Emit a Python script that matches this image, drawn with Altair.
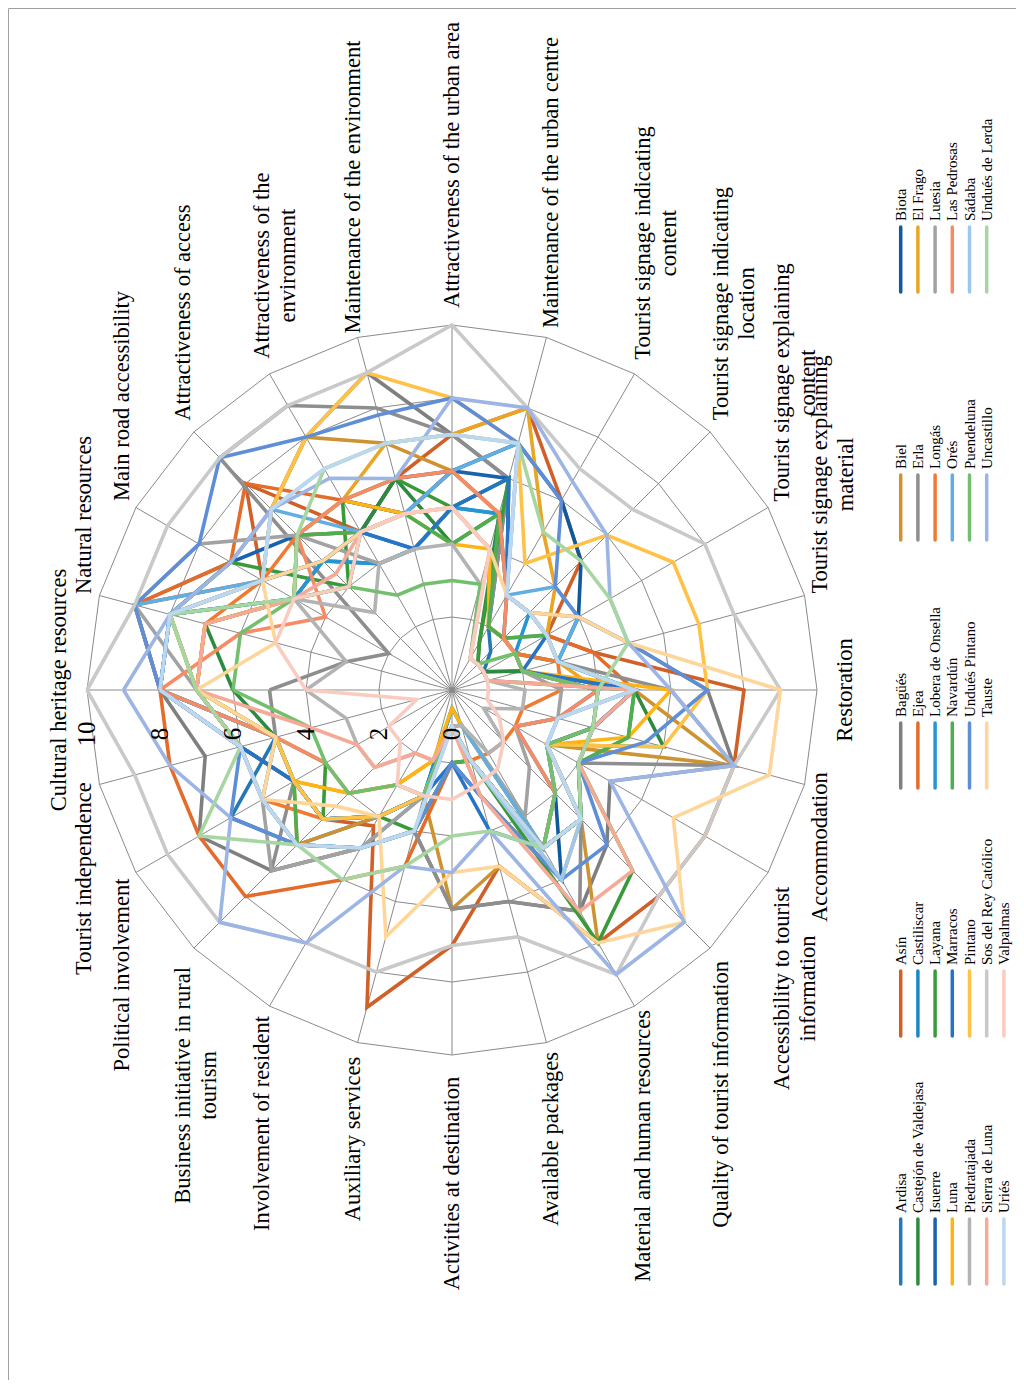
import math
import altair as alt
import pandas as pd

# ---------------- data ----------------
categories = [
    "Cultural heritage resources", "Natural resources", "Main road accessibility",
    "Attractiveness of access", "Attractiveness of the\nenvironment",
    "Maintenance of the environment", "Attractiveness of the urban area",
    "Maintenance of the urban centre", "Tourist signage indicating\ncontent",
    "Tourist signage indicating\nlocation", "Tourist signage explaining\ncontent",
    "Tourist signage explaining\nmaterial", "Restoration", "Accommodation",
    "Accessibility to tourist\ninformation", "Quality of tourist information",
    "Material and human resources", "Available packages", "Activities at destination",
    "Auxiliary services", "Involvement of resident",
    "Business initiative in rural\ntourism", "Political involvement", "Tourist independence",
]
ticks = [0, 2, 4, 6, 8, 10]

series_names = [
    "Ardisa", "Asín", "Bagüés", "Biel", "Biota",
    "Castejón de Valdejasa", "Castiliscar", "Ejea", "Erla", "El Frago",
    "Isuerre", "Layana", "Lobera de Onsella", "Longás", "Luesia",
    "Luna", "Marracos", "Navardún", "Orés", "Las Pedrosas",
    "Piedratajada", "Pintano", "Undués Pintano", "Puendeluna", "Sádaba",
    "Sierra de Luna", "Sos del Rey Católico", "Tauste", "Uncastillo", "Undués de Lerda",
    "Uriés", "Valpalmas",
]
series_colors = [
    "#2478B4", "#D05F28", "#7F7F7F", "#CE9330", "#0E5A9C",
    "#2D8A3E", "#1D87C4", "#E46C2A", "#8E8E8E", "#EBA524",
    "#1A62AE", "#3A9A3A", "#2596D3", "#F07A30", "#A2A2A2",
    "#FDB515", "#2674C5", "#4FAE4F", "#62AEE2", "#F58C66",
    "#B3B3B3", "#FFC247", "#5E8ED6", "#72BF6E", "#9DC7EC",
    "#F5AA98", "#C9C9C9", "#FFD699", "#9DB5E4", "#A8D6A2",
    "#BDD7EE", "#F9CCBF",
]

ardisa = [8, 8, 6, 5, 4, 4, 5, 6, 2, 1.5, 1, 2, 4, 3, 2, 4, 5, 2, 1, 3, 4, 6, 7, 5]
asin = [8, 9, 6, 8, 5, 6, 7, 8, 6, 5, 3, 4, 8, 8, 8, 8, 8, 5, 7, 9, 4.3, 5, 5, 6]
bagues = [8, 9, 7, 7, 8, 9, 7, 6, 3, 3, 4, 5, 7, 8, 5, 6, 7, 6, 6, 4, 5, 7, 8, 7]
biel = [7, 8, 6, 7, 8, 7, 6, 5, 2, 2, 2, 3, 5, 8, 3, 5, 8, 5, 6, 3, 4, 6, 5, 6]
biota = [7, 7, 5, 5, 5, 6, 6, 7, 6, 5, 4, 3, 5, 4, 3, 4, 6, 3, 2, 4, 5, 6, 6, 6]
castejon = [6, 7, 5, 4, 5, 6, 4, 5, 1.5, 1, 1, 2, 5, 6, 3, 5, 5, 2, 1, 3, 4, 5, 5, 5]
castiliscar = [8, 8, 5, 6, 5, 4, 5, 5, 2, 2, 2, 3, 5, 4, 4, 5, 5, 1, 0.5, 3, 5, 6, 6, 5]
ejea = [8, 9, 7, 8, 6, 5, 6, 5, 3, 3, 3, 4, 5, 4, 4, 5, 5, 2, 2, 5, 6, 8, 8, 8]
erla = [5, 3, 2, 9, 9, 8, 7, 6, 2, 2, 3, 3, 6, 8, 4, 5, 7, 6, 6, 4, 5, 7, 5, 5]
el_frago = [7, 7, 5, 6, 6, 7, 7, 8, 5, 4, 3, 3, 4, 4, 3, 5, 6, 3, 1, 2, 3, 4, 5, 5]
isuerre = [8, 8, 7, 6, 6, 5, 6, 6, 3, 2, 2, 2, 4, 4, 3, 5, 5, 2, 1, 3, 4, 5, 5, 6]
layana = [7, 8, 7, 4, 6, 6, 5, 6, 1.5, 1, 1, 1, 5, 5, 4, 7, 8, 2, 2, 4, 4, 5, 4, 5]
lobera = [8, 8, 5, 5, 4, 4, 5, 5, 3, 3, 2, 2, 5, 3, 3, 4, 5, 1, 0.5, 3, 4, 5, 5, 5]
longas = [7, 7, 6, 6, 5, 5, 5, 4, 2, 2, 2, 3, 3, 2, 2, 2, 2, 2, 1, 3, 4, 5, 6, 6]
luesia = [7, 9, 8, 6, 4, 4, 5, 4, 2, 2, 2, 2, 3, 3, 2, 3, 4, 1, 1, 3, 5, 7, 6, 6]
luna = [7, 7, 5, 6, 6, 5, 4, 4, 2, 2, 2, 2, 6, 5, 3, 4, 5, 1, 0.5, 2, 3, 4, 5, 5]
marracos = [8, 8, 6, 5, 5, 4, 5, 6, 3, 3, 3, 2, 5, 4, 4, 5, 5, 4, 2, 3, 4, 5, 5, 6]
navardun = [7, 8, 5, 6, 5, 5, 4, 5, 2, 2, 3, 3, 5, 5, 4, 5, 5, 2, 2, 4, 5, 6, 5, 5]
ores = [8, 9, 6, 7, 5, 5, 6, 7, 3, 4, 4, 3, 5, 3, 3, 4, 5, 1, 1, 3, 4, 5, 5, 5]
las_pedrosas = [8, 6, 4, 6, 6, 6, 6, 5, 3, 2, 2, 2, 4, 3, 2, 4, 5, 2, 1, 3, 3, 4, 4, 5]
piedratajada = [4, 3, 5, 3, 4, 4, 4, 3, 1, 1, 1, 1, 2, 2, 1, 2, 2, 1, 1, 2, 2, 3, 3, 3]
pintano = [7, 8, 6, 7, 8, 9, 8, 7, 4, 6, 7, 7, 7, 6, 3, 5, 6, 2, 1, 3, 4, 5, 5, 5]
undues_pintano = [8, 9, 8, 9, 8, 7.8, 8, 7, 6, 4, 4, 5, 7, 5.5, 4, 6, 6, 3, 2, 4, 5, 6, 7, 6]
puendeluna = [6, 6, 5, 4, 3, 3, 3, 3, 1, 1, 2, 2, 4, 4, 3, 4, 5, 2, 1, 3, 3, 4, 4, 4]
sadaba = [8, 8, 6, 7, 7, 7, 7, 7, 3, 3, 3, 3, 5, 3, 3, 5, 6, 2, 1, 4, 5, 6, 6, 6]
sierra_de_luna = [7, 7, 5, 4.5, 5, 5, 5, 4, 1, 1, 1, 1, 5, 4, 4, 7, 7, 3, 1, 2, 2, 3, 3, 4]
sos_del_rey = [10, 9, 9, 9, 9, 9, 10, 8, 7, 7, 8, 8, 9, 8, 8, 8, 9, 7, 7, 8, 8, 9, 9, 9]
tauste = [7, 5, 6, 5, 5, 5, 5, 4, 3, 3, 4, 5, 9, 9, 7, 9, 8, 5, 5, 7, 4, 4.5, 6, 5]
uncastillo = [9, 8, 7, 7, 6.7, 6, 8, 8, 6.6, 6, 5, 5, 6, 8, 5, 9, 9, 4, 5, 5, 8, 9, 7, 8]
undues_lerda = [7, 8, 5, 6, 7, 7, 7, 7, 5, 5, 5, 5, 4, 4, 4, 5, 5, 4, 4, 5, 6, 6, 8, 6]
uries = [8, 8, 6, 7, 7, 7, 7, 7, 3, 3, 3, 3, 5, 3, 3, 5, 5, 2, 1, 4, 5, 6, 6, 6]
valpalmas = [4, 5, 5, 4, 5, 5, 5, 4, 1, 1, 1, 1, 1, 1, 1.5, 2, 2.5, 2.7, 3, 3, 3, 2, 2, 1]

series_values = [
    ardisa, asin, bagues, biel, biota, castejon, castiliscar, ejea, erla, el_frago,
    isuerre, layana, lobera, longas, luesia, luna, marracos, navardun, ores, las_pedrosas,
    piedratajada, pintano, undues_pintano, puendeluna, sadaba, sierra_de_luna, sos_del_rey,
    tauste, uncastillo, undues_lerda, uries, valpalmas,
]

# ---------------- layout ----------------
PX = 36.5                      # pixels per unit of value
W, H = 1008, 1372
CX, CY = 444, 682              # centre of the radar inside the plot area (px)
xs = alt.Scale(domain=[-CX / PX, (W - CX) / PX], nice=False, zero=False)
ys = alt.Scale(domain=[-(H - CY) / PX, CY / PX], nice=False, zero=False)
N = len(categories)
STEP = 360 / N
SERIF = "Liberation Serif"

ANG = f"PI*(180-{STEP}*datum.k)/180"


def X(f):
    return alt.X(f, type="quantitative", scale=xs, axis=None)


def Y(f):
    return alt.Y(f, type="quantitative", scale=ys, axis=None)


# grid rings
rings = pd.DataFrame([{"ring": r, "k": k} for r in ticks[1:] for k in range(N + 1)])
ring_layer = alt.Chart(rings).transform_calculate(
    x=f"datum.ring*cos({ANG})", y=f"datum.ring*sin({ANG})"
).mark_line(color="#8a8a8a", strokeWidth=1).encode(
    x=X("x"), y=Y("y"), detail="ring:N", order="k:Q"
)

# spokes
spokes = pd.DataFrame({"k": list(range(N))})
spoke_layer = alt.Chart(spokes).transform_calculate(
    x0="0", y0="0", x1=f"{ticks[-1]}*cos({ANG})", y1=f"{ticks[-1]}*sin({ANG})"
).mark_rule(color="#8a8a8a", strokeWidth=1).encode(
    x=X("x0"), y=Y("y0"), x2="x1:Q", y2="y1:Q"
)

# series polygons
rows = []
for si, (name, vals) in enumerate(zip(series_names, series_values)):
    for k in range(N + 1):
        rows.append({"series": name, "idx": si, "k": k, "v": vals[k % N]})
sdf = pd.DataFrame(rows)
line_layer = alt.Chart(sdf).transform_calculate(
    x=f"datum.v*cos({ANG})", y=f"datum.v*sin({ANG})"
).mark_line(strokeWidth=3.6, strokeJoin="miter").encode(
    x=X("x"), y=Y("y"),
    color=alt.Color("series:N", scale=alt.Scale(domain=series_names, range=series_colors),
                    legend=None),
    order="k:Q",
)

# tick labels along the first axis
tdf = pd.DataFrame({"t": ticks})
tick_layer = alt.Chart(tdf).transform_calculate(
    x="-datum.t", y=str(-44 / PX), lab="toString(datum.t)"
).mark_text(angle=270, align="center", baseline="middle", font=SERIF, fontSize=25,
            color="#000").encode(x=X("x"), y=Y("y"), text="lab:N")

# category labels
d = 16 / PX
lab_rows = []
for k, cat in enumerate(categories):
    phi = math.radians(180 - STEP * k)
    c, s = math.cos(phi), math.sin(phi)
    L = max(len(t) for t in cat.split("\n")) * 9.0 / PX
    if abs(s) < 1e-6:
        lx, ly = (10 + d + 0.33) * c, 0.0
    else:
        lx = (10 + d) * c
        ly = (10 + d) * s + (1 if s > 0 else -1) * L / 2
    lab_rows.append({"label": cat, "lx": lx, "ly": ly})
ldf = pd.DataFrame(lab_rows)
cat_layer = alt.Chart(ldf).mark_text(
    angle=270, align="center", baseline="middle", font=SERIF, fontSize=22.5,
    lineHeight=26, lineBreak="\n", color="#000"
).encode(x=X("lx"), y=Y("ly"), text="label:N")

# legend (rotated, 5 groups of columns)
group_top = [1219, 971, 723, 475, 227]    # image y of the top of the colour strokes
leg_rows = []
for si, name in enumerate(series_names):
    row, col = si // 5, si % 5
    gx = 900.7 + row * 17.2
    top = group_top[col]
    leg_rows.append({
        "series": name,
        "gx": (gx - 8 - CX) / PX,
        "ya": (CY - (top - 8)) / PX,
        "yb": (CY - (top + 65 - 8)) / PX,
        "yt": (CY - (top - 14)) / PX,
    })
gdf = pd.DataFrame(leg_rows)
leg_color = alt.Color("series:N", scale=alt.Scale(domain=series_names, range=series_colors),
                      legend=None)
leg_line = alt.Chart(gdf).mark_rule(strokeWidth=3.5, strokeCap="round").encode(
    x=X("gx"), y=Y("ya"), y2="yb:Q", color=leg_color
)
leg_text = alt.Chart(gdf).mark_text(
    angle=270, align="left", baseline="middle", font=SERIF, fontSize=15, color="#000"
).encode(x=X("gx"), y=Y("yt"), text="series:N")

chart = alt.layer(
    ring_layer, spoke_layer, line_layer, tick_layer, cat_layer, leg_line, leg_text
).properties(
    width=W, height=H, padding=0, autosize=alt.AutoSizeParams(type="none")
).configure_view(stroke="#a0a0a0", strokeWidth=1).resolve_scale(color="shared")

chart.save("out.html", embed_options={"renderer": "svg", "actions": False})
